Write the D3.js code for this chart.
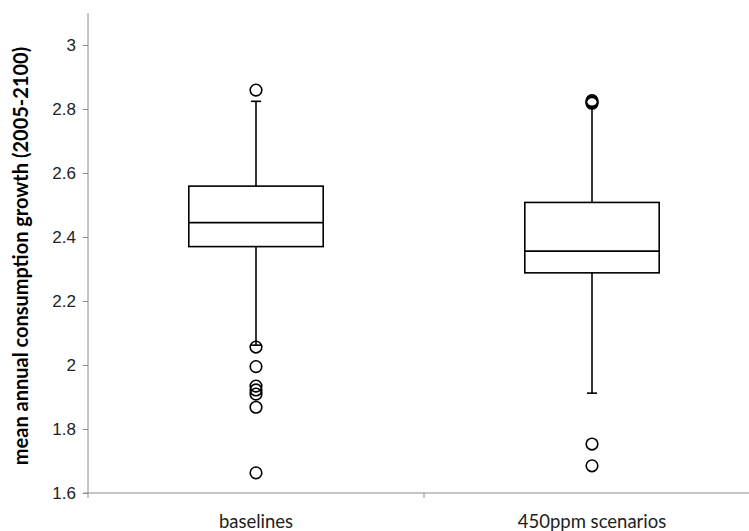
<!DOCTYPE html>
<html>
<head>
<meta charset="utf-8">
<script src="https://cdn.jsdelivr.net/npm/d3@7"></script>
<style>
  html, body { margin: 0; padding: 0; background: #fff; }
  svg { display: block; font-family: Lato, "Open Sans", sans-serif; }
</style>
</head>
<body>
<svg id="chart" width="749" height="531"></svg>
<script>
const categories = ["baselines", "450ppm scenarios"];
const q1 = [2.37, 2.288];
const medians = [2.445, 2.356];
const q3 = [2.559, 2.508];
const whiskerLow = [2.062, 1.912];
const whiskerHigh = [2.824, 2.808];
const outliers = [
  [2.859, 2.056, 1.995, 1.934, 1.922, 1.909, 1.868, 1.663],
  [2.818, 2.822, 2.826, 1.753, 1.685]
];
const yTicks = [1.6, 1.8, 2.0, 2.2, 2.4, 2.6, 2.8, 3.0];
const yLabel = "mean annual consumption growth (2005-2100)";

const svg = d3.select("#chart");
const axisColor = "#8c8c8c";

const y = d3.scaleLinear().domain([1.6, 3.1]).range([493, 13]);
const x = d3.scaleBand().domain(categories).range([88, 760]).padding(0);
const boxW = x.bandwidth() * 0.4;
const capW = 10;

// Y axis
const yAxis = d3.axisLeft(y).tickValues(yTicks).tickSize(5).tickPadding(7)
  .tickFormat(d => d3.format("~g")(d));
const gy = svg.append("g").attr("transform", "translate(88,0)").call(yAxis);
gy.select(".domain").attr("stroke", axisColor).attr("d", `M0,${y(3.1)}V${y(1.6)}`);
gy.selectAll(".tick line").attr("stroke", axisColor);
gy.selectAll(".tick text").attr("fill", "#222").style("font-size", "17px").attr("dy", "0.34em");

// X axis
const gx = svg.append("g").attr("transform", `translate(0,${y(1.6)})`);
gx.append("line").attr("x1", 83).attr("x2", 760).attr("y1", 0).attr("y2", 0).attr("stroke", axisColor);
const bounds = [x(categories[0]), x(categories[1]), x(categories[1]) + x.bandwidth()];
gx.selectAll("line.tk").data(bounds).join("line").attr("class", "tk")
  .attr("x1", d => d).attr("x2", d => d).attr("y1", 0).attr("y2", 5).attr("stroke", axisColor);
gx.selectAll("text").data(categories).join("text")
  .attr("x", d => x(d) + x.bandwidth() / 2).attr("y", 35)
  .attr("text-anchor", "middle").attr("fill", "#222").style("font-size", "18.5px").text(d => d);

// Y label
svg.append("text")
  .attr("transform", `translate(28,${(y(3.1) + y(1.6)) / 2 + 3}) rotate(-90)`)
  .attr("text-anchor", "middle").attr("fill", "#000")
  .style("font-size", "20px").style("font-weight", "bold").text(yLabel);

// Boxes
const g = svg.append("g").attr("stroke", "#000").attr("stroke-width", 1.6).attr("fill", "none");
categories.forEach((c, i) => {
  const cx = x(c) + x.bandwidth() / 2;
  g.append("line").attr("x1", cx).attr("x2", cx).attr("y1", y(q3[i])).attr("y2", y(whiskerHigh[i]));
  g.append("line").attr("x1", cx).attr("x2", cx).attr("y1", y(q1[i])).attr("y2", y(whiskerLow[i]));
  g.append("line").attr("x1", cx - capW / 2).attr("x2", cx + capW / 2).attr("y1", y(whiskerHigh[i])).attr("y2", y(whiskerHigh[i]));
  g.append("line").attr("x1", cx - capW / 2).attr("x2", cx + capW / 2).attr("y1", y(whiskerLow[i])).attr("y2", y(whiskerLow[i]));
  g.append("rect").attr("x", cx - boxW / 2).attr("y", y(q3[i])).attr("width", boxW).attr("height", y(q1[i]) - y(q3[i])).attr("fill", "#fff");
  g.append("line").attr("x1", cx - boxW / 2).attr("x2", cx + boxW / 2).attr("y1", y(medians[i])).attr("y2", y(medians[i]));
  g.selectAll(null).data(outliers[i]).join("circle")
    .attr("cx", cx).attr("cy", d => y(d)).attr("r", 5.8).attr("fill", "none");
});
</script>
</body>
</html>
